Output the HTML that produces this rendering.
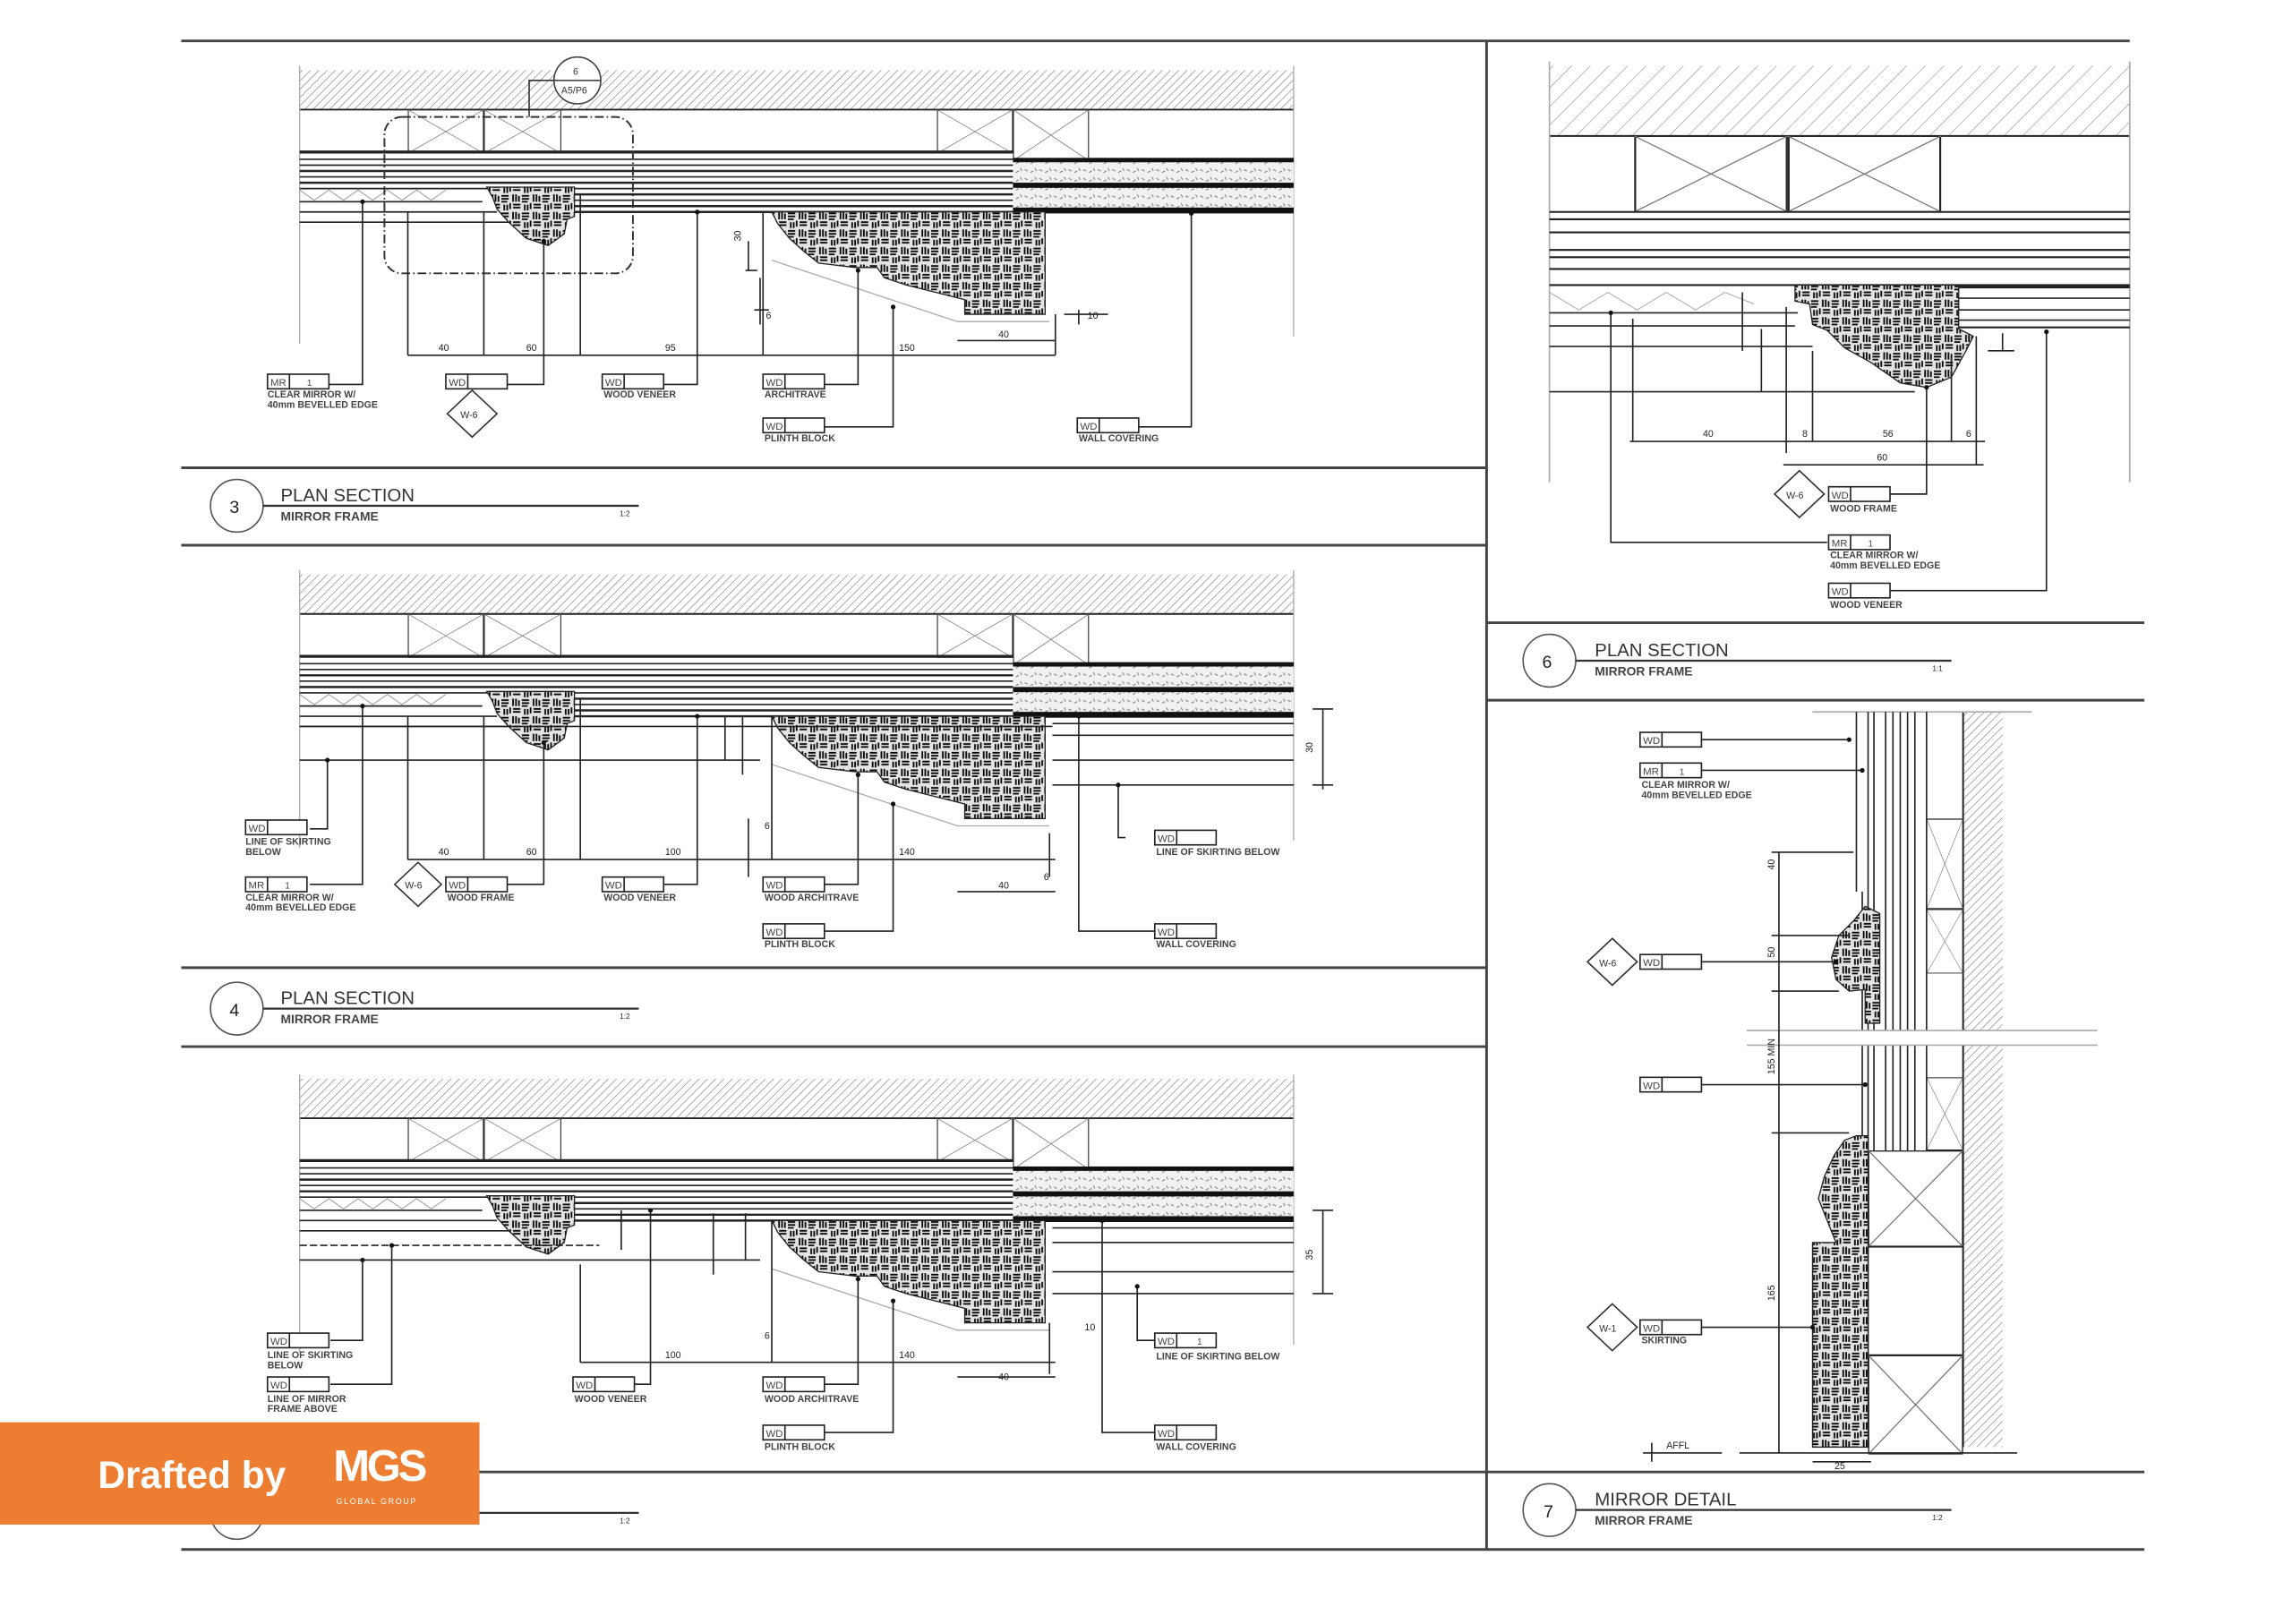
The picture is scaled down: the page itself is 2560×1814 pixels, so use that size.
<!DOCTYPE html>
<html><head><meta charset="utf-8"><style>
html,body{margin:0;padding:0;background:#fff;}
svg{display:block;}
text{font-family:"Liberation Sans",sans-serif;fill:#222;}
.t{font-size:6.5px;font-weight:bold;fill:#444;}
.d{font-size:6.5px;fill:#333;}
.bt{font-size:7px;fill:#333;}
</style></head><body>
<svg width="2560" height="1814" viewBox="0 0 1568 1111" preserveAspectRatio="none" xmlns="http://www.w3.org/2000/svg">
<defs>
<pattern id="hat" width="4" height="4" patternUnits="userSpaceOnUse" patternTransform="rotate(45)">
<rect width="4" height="4" fill="#fff"/><line x1="0" y1="0" x2="0" y2="4" stroke="#999" stroke-width="1"/></pattern>
<pattern id="hat2" width="9" height="9" patternUnits="userSpaceOnUse" patternTransform="rotate(45)">
<rect width="9" height="9" fill="#fff"/><line x1="0" y1="0" x2="0" y2="9" stroke="#888" stroke-width="0.7"/></pattern>
<pattern id="blob" width="14" height="12" patternUnits="userSpaceOnUse">
<rect width="14" height="12" fill="#e4e4e4"/>
<path d="M1 1v5M3 1v5M5 2v4M7 2h5M7 4h5M7 6h4M1 8h5M1 10h5M9 8v4M11 8v4M13 7v4" stroke="#000" stroke-width="1.1"/></pattern>
<pattern id="ins" width="10" height="6" patternUnits="userSpaceOnUse">
<rect width="10" height="6" fill="#f1f1f1"/><path d="M1 2l2 1M5 4l2-1M8 1l1 2" stroke="#777" stroke-width="0.6"/></pattern>
<symbol id="xb" viewBox="0 0 10 10" preserveAspectRatio="none"><rect x="0" y="0" width="10" height="10" fill="none" stroke="#222" stroke-width="0.25"/><path d="M0 0L10 10M10 0L0 10" stroke="#777" stroke-width="0.12"/></symbol>
<g id="wd"><rect x="0" y="0" width="42" height="10" fill="#fff" stroke="#222" stroke-width="1"/><line x1="15" y1="0" x2="15" y2="10" stroke="#222"/><text x="2" y="8" style="font-size:7px;fill:#444">WD</text></g>
<g id="mr"><rect x="0" y="0" width="42" height="10" fill="#fff" stroke="#222" stroke-width="1"/><line x1="15" y1="0" x2="15" y2="10" stroke="#222"/><text x="2" y="8" style="font-size:7px;fill:#444">MR</text><text x="27" y="8" style="font-size:6px;fill:#444">1</text></g>
<g id="base">
<rect x="205" y="48" width="680" height="27" fill="url(#hat)"/>
<line x1="205" y1="75" x2="885" y2="75" stroke="#222" stroke-width="1.2"/>
<line x1="205" y1="45" x2="205" y2="235" stroke="#aaa" stroke-width="0.8"/>
<line x1="885" y1="45" x2="885" y2="230" stroke="#aaa" stroke-width="0.8"/>
<use href="#xb" x="279" y="75" width="52" height="30"/>
<use href="#xb" x="331" y="75" width="53" height="30"/>
<use href="#xb" x="641" y="75" width="52" height="30"/>
<use href="#xb" x="693" y="75" width="52" height="35"/>
<g stroke="#222" stroke-width="1">
<line x1="205" y1="104" x2="693" y2="104" stroke-width="2"/>
<line x1="205" y1="109" x2="693" y2="109"/>
<line x1="205" y1="113" x2="693" y2="113"/>
<line x1="205" y1="117" x2="693" y2="117" stroke-width="1.5"/>
<line x1="205" y1="121" x2="693" y2="121"/>
<line x1="205" y1="125" x2="693" y2="125" stroke-width="1.5"/>
<line x1="205" y1="129" x2="693" y2="129"/>
<line x1="393" y1="133" x2="693" y2="133" stroke-width="1.5"/>
<line x1="393" y1="137" x2="693" y2="137"/>
<line x1="393" y1="141" x2="693" y2="141" stroke-width="1.5"/>
<line x1="393" y1="145" x2="693" y2="145" stroke-width="1.5"/>
<line x1="205" y1="138" x2="330" y2="138"/>
<line x1="205" y1="145" x2="340" y2="145"/>
<line x1="205" y1="152" x2="360" y2="152"/>
</g>
<path d="M205 130 L215 137 L225 130 L235 137 L245 130 L255 137 L265 130 L275 137 L285 130 L295 137 L305 130" stroke="#999" fill="none" stroke-width="0.6"/>
<rect x="693" y="110" width="192" height="35" fill="url(#ins)"/>
<rect x="693" y="108" width="192" height="3" fill="#111"/>
<rect x="693" y="125" width="192" height="3.5" fill="#111"/>
<rect x="693" y="142" width="192" height="4" fill="#111"/>
<path d="M333 128 L393 128 L393 148 L388 150 L386 160 L375 168 L360 163 L348 152 L340 143 L337 135Z" fill="url(#blob)" stroke="#222" stroke-width="0.8"/>
<path d="M528 145 L715 145 L715 215 L660 215 L660 205 L640 200 L620 195 L605 190 L600 183 L585 183 L560 180 L550 172 L540 163 L532 153Z" fill="url(#blob)" stroke="#222" stroke-width="0.8"/>
<path d="M528 178 L655 220 L718 220" stroke="#aaa" fill="none" stroke-width="0.8"/>
</g>
</defs>

<g stroke="#444" stroke-width="1.8">
<line x1="124" y1="28" x2="1457" y2="28"/>
<line x1="1017" y1="28" x2="1017" y2="1060"/>
<line x1="124" y1="320" x2="1017" y2="320"/>
<line x1="124" y1="373" x2="1017" y2="373"/>
<line x1="124" y1="662" x2="1017" y2="662"/>
<line x1="124" y1="716" x2="1017" y2="716"/>
<line x1="124" y1="1007" x2="1467" y2="1007"/>
<line x1="124" y1="1060" x2="1467" y2="1060"/>
<line x1="1017" y1="426" x2="1467" y2="426"/>
<line x1="1017" y1="479" x2="1467" y2="479"/>
</g>

<!-- PANEL 3 -->
<use href="#base"/>
<rect x="263" y="80" width="170" height="107" rx="12" fill="none" stroke="#333" stroke-width="1.2" stroke-dasharray="6 2 1 2"/>
<circle cx="395" cy="55" r="16" fill="#fff" stroke="#444"/>
<line x1="379" y1="55" x2="411" y2="55" stroke="#444"/>
<path d="M379 55 L362 55 L362 80" stroke="#333" fill="none"/>
<text x="392" y="51" class="d">6</text><text x="384" y="64" class="d">A5/P6</text>
<g stroke="#222" stroke-width="1" fill="none">
<path d="M225 263 H248 V138"/><path d="M347 263 H372 V165"/><path d="M454 263 H477 V145"/>
<path d="M564 263 H587 V185"/><path d="M564 292 H611 V210"/><path d="M779 292 H815 V146"/>
<path d="M279 145 V243 M331 145 V243 M397 133 V243 M522 145 V243 M722 215 V243"/>
<path d="M279 243 H722"/><path d="M655 233 H722"/>
<path d="M512 165 V185 M510 185 H518 M520 190 V222 M516 212 H526"/>
<path d="M738 212 V222 M728 215 H758"/>
</g>
<g fill="#111"><circle cx="248" cy="138" r="1.6"/><circle cx="372" cy="165" r="1.6"/><circle cx="477" cy="145" r="1.6"/><circle cx="587" cy="185" r="1.6"/><circle cx="611" cy="210" r="1.6"/><circle cx="815" cy="146" r="1.6"/></g>
<g class="d"><text x="300" y="240">40</text><text x="360" y="240">60</text><text x="455" y="240">95</text><text x="615" y="240">150</text><text x="683" y="231">40</text><text x="507" y="165" transform="rotate(-90 507 165)">30</text><text x="524" y="218">6</text><text x="744" y="218">10</text></g>
<use href="#mr" x="183" y="256"/><text x="183" y="272" class="t">CLEAR MIRROR W/</text><text x="183" y="279" class="t">40mm BEVELLED EDGE</text>
<use href="#wd" x="305" y="256"/>
<path d="M323 267 L340 283 L323 299 L306 283Z" fill="#fff" stroke="#333"/><text x="315" y="286" class="d">W-6</text>
<use href="#wd" x="412" y="256"/><text x="413" y="272" class="t">WOOD VENEER</text>
<use href="#wd" x="522" y="256"/><text x="523" y="272" class="t">ARCHITRAVE</text>
<use href="#wd" x="522" y="286"/><text x="523" y="302" class="t">PLINTH BLOCK</text>
<use href="#wd" x="737" y="286"/><text x="738" y="302" class="t">WALL COVERING</text>

<!-- PANEL 4 -->
<g transform="translate(0,345)"><use href="#base"/></g>
<g stroke="#222" stroke-width="1" fill="none">
<line x1="720" y1="495" x2="885" y2="495"/><line x1="720" y1="503" x2="885" y2="503"/><line x1="720" y1="520" x2="885" y2="520"/><line x1="720" y1="537" x2="885" y2="537"/>
<line x1="205" y1="497" x2="720" y2="497"/><line x1="205" y1="520" x2="520" y2="520"/>
<path d="M212 567 H224 V520"/><path d="M212 605 H248 V483"/><path d="M347 605 H372 V508"/>
<path d="M454 605 H477 V490"/><path d="M564 605 H587 V530"/><path d="M564 637 H611 V550"/>
<path d="M770 573 H765 V537"/><path d="M790 637 H738 V490"/>
<path d="M279 490 V588 M331 490 V588 M397 478 V588 M528 490 V588 M718 570 V600"/>
<path d="M279 588 H722"/><path d="M655 610 H722"/>
<path d="M905 485 V540 M898 485 H912 M898 537 H912"/>
<path d="M508 490 V530 M512 560 V600 M496 490 V520"/>
</g>
<g fill="#111"><circle cx="224" cy="520" r="1.6"/><circle cx="248" cy="483" r="1.6"/><circle cx="372" cy="508" r="1.6"/><circle cx="477" cy="490" r="1.6"/><circle cx="587" cy="530" r="1.6"/><circle cx="611" cy="550" r="1.6"/><circle cx="765" cy="537" r="1.6"/><circle cx="738" cy="490" r="1.6"/></g>
<g class="d"><text x="300" y="585">40</text><text x="360" y="585">60</text><text x="455" y="585">100</text><text x="615" y="585">140</text><text x="683" y="608">40</text><text x="898" y="515" transform="rotate(-90 898 515)">30</text><text x="523" y="567">6</text><text x="714" y="602">6</text></g>
<use href="#wd" x="168" y="561"/><text x="168" y="578" class="t">LINE OF SKIRTING</text><text x="168" y="585" class="t">BELOW</text>
<use href="#mr" x="168" y="600"/><text x="168" y="616" class="t">CLEAR MIRROR W/</text><text x="168" y="623" class="t">40mm BEVELLED EDGE</text>
<path d="M286 590 L302 605 L286 620 L270 605Z" fill="#fff" stroke="#333"/><text x="277" y="608" class="d">W-6</text>
<use href="#wd" x="305" y="600"/><text x="306" y="616" class="t">WOOD FRAME</text>
<use href="#wd" x="412" y="600"/><text x="413" y="616" class="t">WOOD VENEER</text>
<use href="#wd" x="522" y="600"/><text x="523" y="616" class="t">WOOD ARCHITRAVE</text>
<use href="#wd" x="522" y="632"/><text x="523" y="648" class="t">PLINTH BLOCK</text>
<use href="#wd" x="790" y="568"/><text x="791" y="585" class="t">LINE OF SKIRTING BELOW</text>
<use href="#wd" x="790" y="632"/><text x="791" y="648" class="t">WALL COVERING</text>

<!-- PANEL 5 -->
<g transform="translate(0,690)"><use href="#base"/></g>
<g stroke="#222" stroke-width="1" fill="none">
<line x1="720" y1="840" x2="885" y2="840"/><line x1="720" y1="850" x2="885" y2="850"/><line x1="720" y1="870" x2="885" y2="870"/><line x1="720" y1="885" x2="885" y2="885"/>
<line x1="205" y1="862" x2="520" y2="862"/>
<line x1="205" y1="852" x2="410" y2="852" stroke-dasharray="5 2"/>
<path d="M226 917 H248 V862"/><path d="M226 947 H268 V852"/>
<path d="M434 947 H445 V828"/><path d="M564 947 H587 V875"/><path d="M564 980 H611 V890"/>
<path d="M790 917 H778 V880"/><path d="M790 980 H754 V835"/>
<path d="M397 865 V932 M528 835 V932 M718 905 V940"/>
<path d="M397 932 H722"/><path d="M655 942 H722"/>
<path d="M905 828 V885 M898 828 H912 M898 885 H912"/>
<path d="M425 828 V855 M488 830 V872 M510 830 V862"/>
</g>
<g fill="#111"><circle cx="248" cy="862" r="1.6"/><circle cx="268" cy="852" r="1.6"/><circle cx="445" cy="828" r="1.6"/><circle cx="587" cy="875" r="1.6"/><circle cx="611" cy="890" r="1.6"/><circle cx="778" cy="880" r="1.6"/><circle cx="754" cy="835" r="1.6"/></g>
<g class="d"><text x="455" y="929">100</text><text x="615" y="929">140</text><text x="683" y="944">40</text><text x="898" y="862" transform="rotate(-90 898 862)">35</text><text x="523" y="916">6</text><text x="742" y="910">10</text></g>
<use href="#wd" x="183" y="912"/><text x="183" y="929" class="t">LINE OF SKIRTING</text><text x="183" y="936" class="t">BELOW</text>
<use href="#wd" x="183" y="942"/><text x="183" y="959" class="t">LINE OF MIRROR</text><text x="183" y="966" class="t">FRAME ABOVE</text>
<use href="#wd" x="392" y="942"/><text x="393" y="959" class="t">WOOD VENEER</text>
<use href="#wd" x="522" y="942"/><text x="523" y="959" class="t">WOOD ARCHITRAVE</text>
<use href="#wd" x="522" y="975"/><text x="523" y="992" class="t">PLINTH BLOCK</text>
<use href="#wd" x="790" y="912"/><text x="819" y="920" style="font-size:6px;fill:#444">1</text><text x="791" y="930" class="t">LINE OF SKIRTING BELOW</text>
<use href="#wd" x="790" y="975"/><text x="791" y="992" class="t">WALL COVERING</text>

<g>
<circle cx="162" cy="346" r="18" fill="#fff" stroke="#555"/><text x="157" y="351" style="font-size:12px">3</text>
<line x1="180" y1="346" x2="437" y2="346" stroke="#333" stroke-width="1.4"/>
<text x="192" y="343" style="font-size:12.5px;fill:#333">PLAN SECTION</text>
<text x="192" y="356" style="font-size:8.5px;font-weight:bold;fill:#444">MIRROR FRAME</text><text x="424" y="353" style="font-size:5px">1:2</text>
<circle cx="162" cy="690" r="18" fill="#fff" stroke="#555"/><text x="157" y="695" style="font-size:12px">4</text>
<line x1="180" y1="690" x2="437" y2="690" stroke="#333" stroke-width="1.4"/>
<text x="192" y="687" style="font-size:12.5px;fill:#333">PLAN SECTION</text>
<text x="192" y="700" style="font-size:8.5px;font-weight:bold;fill:#444">MIRROR FRAME</text><text x="424" y="697" style="font-size:5px">1:2</text>
<circle cx="162" cy="1035" r="18" fill="#fff" stroke="#555"/>
<line x1="180" y1="1035" x2="437" y2="1035" stroke="#333" stroke-width="1.4"/><text x="424" y="1042" style="font-size:5px">1:2</text>
</g>

<!-- PANEL 6 -->
<rect x="1060" y="45" width="397" height="48" fill="url(#hat2)"/>
<line x1="1060" y1="93" x2="1457" y2="93" stroke="#222" stroke-width="1.2"/>
<line x1="1060" y1="42" x2="1060" y2="330" stroke="#aaa"/><line x1="1457" y1="42" x2="1457" y2="330" stroke="#aaa"/>
<use href="#xb" x="1118" y="93" width="105" height="52"/><use href="#xb" x="1223" y="93" width="105" height="52"/>
<g stroke="#222" stroke-width="1">
<line x1="1060" y1="145" x2="1457" y2="145" stroke-width="1.3"/>
<line x1="1060" y1="150" x2="1457" y2="150" stroke-width="1.3"/>
<line x1="1060" y1="159" x2="1457" y2="159" stroke-width="1.3"/>
<line x1="1060" y1="171" x2="1457" y2="171" stroke-width="1.3"/>
<line x1="1060" y1="176" x2="1457" y2="176" stroke-width="1.3"/>
<line x1="1060" y1="184" x2="1457" y2="184" stroke-width="1.3"/>
<line x1="1060" y1="195" x2="1457" y2="195" stroke-width="1.3"/>
<line x1="1340" y1="196" x2="1457" y2="196" stroke-width="2.5"/>
<line x1="1340" y1="204" x2="1457" y2="204"/><line x1="1340" y1="212" x2="1457" y2="212"/>
<line x1="1340" y1="219" x2="1457" y2="219"/><line x1="1340" y1="224" x2="1457" y2="224" stroke-width="1.3"/>
<line x1="1060" y1="214" x2="1230" y2="214"/><line x1="1060" y1="223" x2="1228" y2="223"/><line x1="1060" y1="237" x2="1240" y2="237"/><line x1="1060" y1="268" x2="1310" y2="268"/>
</g>
<path d="M1060 200 L1080 212 L1100 200 L1120 212 L1140 200 L1160 212 L1180 200 L1200 208" stroke="#aaa" fill="none" stroke-width="0.6"/>
<path d="M1228 195 L1340 195 L1340 225 L1350 230 L1345 240 L1335 258 L1318 265 L1300 262 L1280 248 L1262 238 L1250 226 L1240 222 L1238 208 L1228 206Z" fill="url(#blob)" stroke="#222" stroke-width="0.8"/>
<g stroke="#222" stroke-width="1" fill="none">
<path d="M1117 218 V302 M1222 210 V310 M1240 240 V302 M1335 245 V302 M1352 230 V318"/>
<path d="M1115 302 H1358 M1220 318 H1357"/>
<path d="M1192 200 V240 M1205 225 V268"/><path d="M1370 228 V240 M1360 240 H1378"/>
<path d="M1293 338 H1318 V265"/><path d="M1250 371 H1102 V214"/><path d="M1293 404 H1400 V227"/>
</g>
<g fill="#111"><circle cx="1318" cy="265" r="1.6"/><circle cx="1102" cy="214" r="1.6"/><circle cx="1400" cy="227" r="1.6"/></g>
<g class="d"><text x="1165" y="299">40</text><text x="1233" y="299">8</text><text x="1288" y="299">56</text><text x="1345" y="299">6</text><text x="1284" y="315">60</text></g>
<path d="M1231 322 L1248 338 L1231 354 L1214 338Z" fill="#fff" stroke="#333"/><text x="1222" y="341" class="d">W-6</text>
<use href="#wd" x="1251" y="333"/><text x="1252" y="350" class="t">WOOD FRAME</text>
<use href="#mr" x="1251" y="366"/><text x="1252" y="382" class="t">CLEAR MIRROR W/</text><text x="1252" y="389" class="t">40mm BEVELLED EDGE</text>
<use href="#wd" x="1251" y="399"/><text x="1252" y="416" class="t">WOOD VENEER</text>
<circle cx="1060" cy="452" r="18" fill="#fff" stroke="#555"/><text x="1055" y="457" style="font-size:12px">6</text>
<line x1="1078" y1="452" x2="1335" y2="452" stroke="#333" stroke-width="1.4"/>
<text x="1091" y="449" style="font-size:12.5px;fill:#333">PLAN SECTION</text>
<text x="1091" y="462" style="font-size:8.5px;font-weight:bold;fill:#444">MIRROR FRAME</text><text x="1322" y="459" style="font-size:5px">1:1</text>

<!-- PANEL 7 -->
<rect x="1343" y="487" width="27" height="503" fill="url(#hat)"/>
<line x1="1343" y1="487" x2="1343" y2="990" stroke="#222" stroke-width="1.2"/>
<line x1="1240" y1="487" x2="1390" y2="487" stroke="#aaa"/>
<use href="#xb" x="1318" y="560" width="25" height="62"/><use href="#xb" x="1318" y="622" width="25" height="44"/>
<use href="#xb" x="1318" y="737" width="25" height="50"/>
<use href="#xb" x="1278" y="787" width="65" height="66"/>
<rect x="1278" y="853" width="65" height="74" fill="none" stroke="#222" stroke-width="1"/>
<use href="#xb" x="1278" y="927" width="65" height="68"/>
<g stroke="#222" stroke-width="1">
<line x1="1270" y1="487" x2="1270" y2="610"/><line x1="1278" y1="487" x2="1278" y2="787"/>
<line x1="1282" y1="487" x2="1282" y2="787"/><line x1="1290" y1="487" x2="1290" y2="787"/>
<line x1="1295" y1="487" x2="1295" y2="787"/><line x1="1300" y1="487" x2="1300" y2="787"/>
<line x1="1305" y1="487" x2="1305" y2="787"/><line x1="1310" y1="487" x2="1310" y2="787"/>
<line x1="1318" y1="487" x2="1318" y2="787"/>
<line x1="1274" y1="610" x2="1274" y2="787"/>
</g>
<rect x="1195" y="705" width="240" height="10" fill="#fff"/>
<line x1="1195" y1="705" x2="1435" y2="705" stroke="#aaa"/><line x1="1195" y1="715" x2="1435" y2="715" stroke="#aaa"/>
<path d="M1286 625 L1276 620 L1268 630 L1258 640 L1253 655 L1256 670 L1265 678 L1276 677 L1276 700 L1286 700Z" fill="url(#blob)" stroke="#222" stroke-width="0.8"/>
<path d="M1270 777 L1262 780 L1255 790 L1248 805 L1244 820 L1250 835 L1256 850 L1240 850 L1240 990 L1278 990 L1278 777Z" fill="url(#blob)" stroke="#222" stroke-width="0.8"/>
<line x1="1190" y1="994" x2="1380" y2="994" stroke="#222" stroke-width="1"/>
<g stroke="#222" stroke-width="1" fill="none">
<path d="M1164 506 H1265 M1164 527 H1274 M1164 658 H1256 M1164 742 H1276 M1164 908 H1240"/>
<path d="M1217 583 V994 M1212 583 H1268 M1212 640 H1265 M1212 678 H1258 M1212 775 H1265"/>
<path d="M1240 1000 H1280"/><path d="M1124 994 H1178"/><path d="M1130 987 L1130 1000"/>
</g>
<g fill="#111"><circle cx="1265" cy="506" r="1.6"/><circle cx="1274" cy="527" r="1.6"/><circle cx="1256" cy="658" r="1.6"/><circle cx="1276" cy="742" r="1.6"/><circle cx="1240" cy="908" r="1.6"/></g>
<g class="d"><text x="1214" y="595" transform="rotate(-90 1214 595)">40</text><text x="1214" y="655" transform="rotate(-90 1214 655)">50</text><text x="1214" y="735" transform="rotate(-90 1214 735)">155 MIN</text><text x="1214" y="890" transform="rotate(-90 1214 890)">165</text><text x="1255" y="1005">25</text><text x="1140" y="991">AFFL</text></g>
<use href="#wd" x="1122" y="501"/>
<use href="#mr" x="1122" y="522"/><text x="1123" y="539" class="t">CLEAR MIRROR W/</text><text x="1123" y="546" class="t">40mm BEVELLED EDGE</text>
<path d="M1103 642 L1120 658 L1103 674 L1086 658Z" fill="#fff" stroke="#333"/><text x="1094" y="661" class="d">W-6</text>
<use href="#wd" x="1122" y="653"/>
<use href="#wd" x="1122" y="737"/>
<path d="M1103 892 L1120 908 L1103 924 L1086 908Z" fill="#fff" stroke="#333"/><text x="1094" y="911" class="d">W-1</text>
<use href="#wd" x="1122" y="903"/><text x="1123" y="919" class="t">SKIRTING</text>
<circle cx="1060" cy="1033" r="18" fill="#fff" stroke="#555"/><text x="1056" y="1038" style="font-size:12px">7</text>
<line x1="1078" y1="1033" x2="1335" y2="1033" stroke="#333" stroke-width="1.4"/>
<text x="1091" y="1030" style="font-size:12.5px;fill:#333">MIRROR DETAIL</text>
<text x="1091" y="1043" style="font-size:8.5px;font-weight:bold;fill:#444">MIRROR FRAME</text><text x="1322" y="1040" style="font-size:5px">1:2</text>

<rect x="0" y="973" width="328" height="70" fill="#ED7D31"/>
<text x="67" y="1018" style="font-size:26px;font-weight:bold;fill:#fff;font-family:'Liberation Sans',sans-serif">Drafted by</text>
<text x="228" y="1013" style="font-size:30px;font-weight:bold;fill:#fff;letter-spacing:-2px">MGS</text>
<text x="230" y="1029" style="font-size:5.5px;fill:#fff;letter-spacing:1px">GLOBAL GROUP</text>
</svg>
</body></html>
